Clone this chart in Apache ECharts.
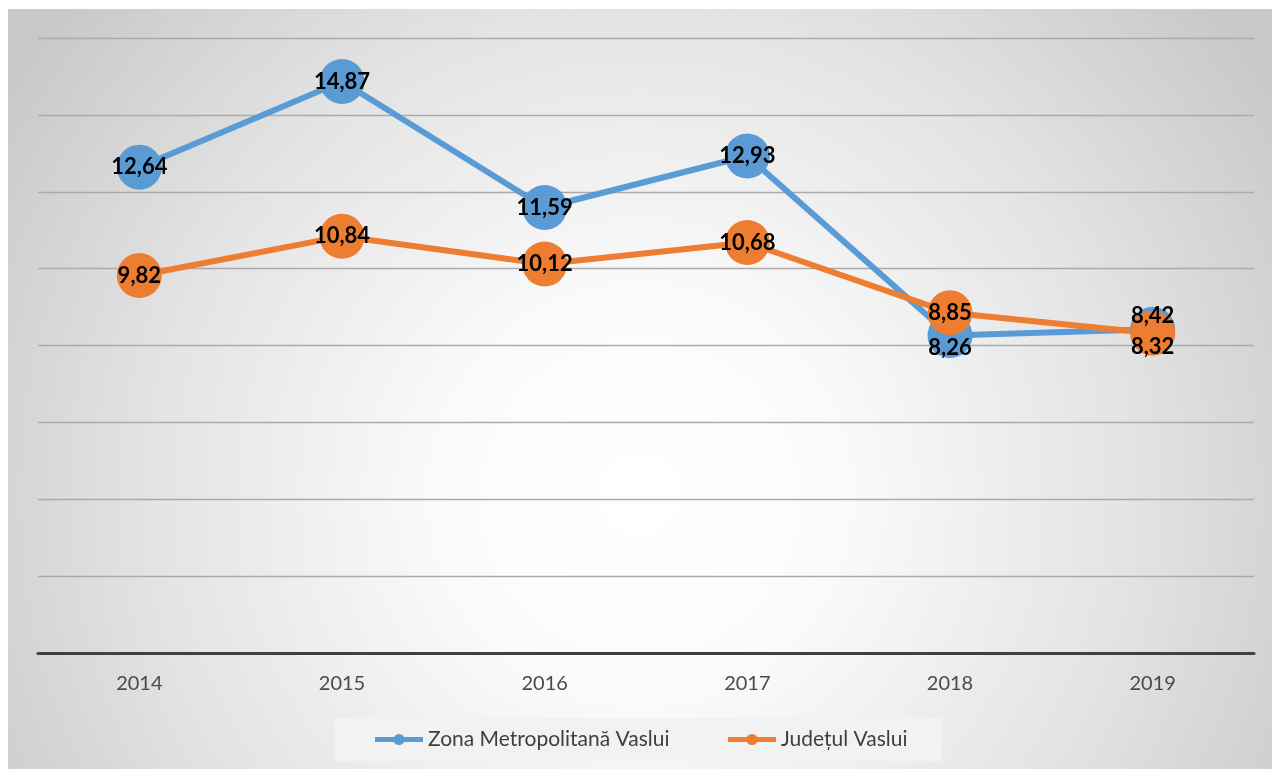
<!DOCTYPE html>
<html>
<head>
<meta charset="utf-8">
<script src="https://cdn.jsdelivr.net/npm/echarts@6/dist/echarts.min.js"></script>
<style>
  html, body { margin: 0; padding: 0; background: #fff; }
  #chart {
    position: absolute;
    left: 8px;
    top: 9px;
    width: 1264px;
    height: 760px;
  }
</style>
</head>
<body>
<div id="chart"></div>
<script>
// date
var years = ['2014', '2015', '2016', '2017', '2018', '2019'];
var zonaMetro = [12.64, 14.87, 11.59, 12.93, 8.26, 8.42];
var judetul = [9.82, 10.84, 10.12, 10.68, 8.85, 8.32];
var seriesNames = ['Zona Metropolitană Vaslui', 'Județul Vaslui'];

var fmt = function (p) {
  return p.value.toFixed(2).replace('.', ',');
};

// etichete suprapuse la 2018/2019 - le mutam putin
function withLabels(values, shifts) {
  return values.map(function (v, i) {
    if (shifts[i]) {
      return { value: v, label: { offset: [0, shifts[i]] } };
    }
    return v;
  });
}

var labelStyle = {
  show: true,
  position: 'inside',
  formatter: fmt,
  fontFamily: 'Lato',
  fontWeight: 'bold',
  fontSize: 22,
  color: '#000'
};

var myChart = echarts.init(document.getElementById('chart'));
myChart.setOption({
  backgroundColor: {
    type: 'radial',
    x: 0.5, y: 0.64, r: 1.0,
    colorStops: [
      { offset: 0, color: '#ffffff' },
      { offset: 0.25, color: '#fbfbfb' },
      { offset: 0.65, color: '#e3e3e3' },
      { offset: 1, color: '#c8c8c8' }
    ]
  },
  animation: false,
  grid: {
    left: 30,
    right: 18,
    top: 29,
    bottom: 116
  },
  legend: {
    bottom: 8,
    left: 'center',
    backgroundColor: '#f2f2f2',
    padding: [11, 34, 11, 38],
    itemGap: 56,
    itemWidth: 48,
    itemHeight: 14,
    lineStyle: { width: 5 },
    textStyle: {
      fontFamily: 'Lato',
      fontSize: 21,
      color: '#404040'
    },
    data: seriesNames
  },
  xAxis: {
    type: 'category',
    data: years,
    axisLine: { lineStyle: { color: '#404040', width: 3 } },
    axisTick: { show: false },
    axisLabel: {
      margin: 21,
      fontFamily: 'Lato',
      fontSize: 20,
      color: '#4a4a4a'
    }
  },
  yAxis: {
    type: 'value',
    min: 0,
    max: 16,
    interval: 2,
    axisLabel: { show: false },
    axisLine: { show: false },
    axisTick: { show: false },
    splitLine: { lineStyle: { color: '#aaaaaa', width: 1.3 } }
  },
  series: [
    {
      name: seriesNames[0],
      type: 'line',
      data: withLabels(zonaMetro, { 4: 12, 5: -13 }),
      color: '#5b9bd5',
      lineStyle: { width: 6 },
      symbol: 'circle',
      symbolSize: 45,
      label: labelStyle
    },
    {
      name: seriesNames[1],
      type: 'line',
      data: withLabels(judetul, { 5: 14 }),
      color: '#ed7d31',
      lineStyle: { width: 6 },
      symbol: 'circle',
      symbolSize: 45,
      label: labelStyle
    }
  ]
});
</script>
</body>
</html>
